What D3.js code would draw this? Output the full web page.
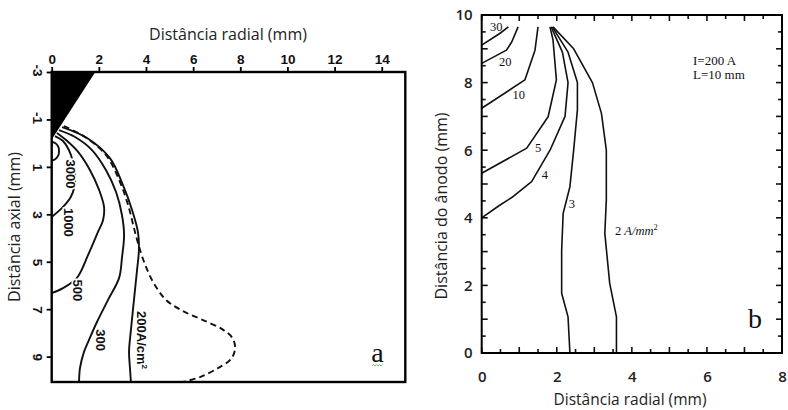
<!DOCTYPE html>
<html><head><meta charset="utf-8">
<script src="https://cdn.jsdelivr.net/npm/d3@7"></script>
<style>
body{margin:0;background:#fff;}
svg{display:block;}
</style></head><body>
<svg id="chart" width="788" height="410"></svg>
<script>
// ---------- Panel a: current density near the cathode (A/cm²) ----------
const radialTicksA = [0, 2, 4, 6, 8, 10, 12, 14];
const axialTicksA = [-3, -1, 1, 3, 5, 7, 9];
const cathodeA = [[0, -3], [1.85, -3], [0, -0.15]];

const contour3000 = [[0, -0.06], [0.18, 0.02], [0.29, 0.18], [0.31, 0.34], [0.28, 0.52], [0.16, 0.67], [0, 0.74]];
const contour1000 = [[0.14, -0.3], [0.48, -0.09], [0.73, 0.29], [0.9, 0.79], [0.99, 1.34], [0.95, 1.89], [0.81, 2.27], [0.44, 2.73], [0, 3.11]];
const contour500 = [[0.22, -0.43], [0.61, -0.13], [1.12, 0.37], [1.62, 1.13], [2.01, 1.97], [2.22, 2.69], [2.18, 3.24], [1.96, 3.75], [1.54, 4.72], [1.07, 5.68], [0.48, 6.11], [0, 6.32]];
const contour300 = [[0.31, -0.55], [0.99, -0.26], [1.71, 0.29], [2.3, 1.13], [2.73, 2.06], [2.98, 3.03], [3.07, 3.87], [2.98, 4.84], [2.86, 5.68], [2.39, 6.61], [1.92, 7.54], [1.58, 8.3], [1.37, 8.8], [1.2, 9.48], [1.16, 10.07]];
const contour200 = [[0.44, -0.68], [1.5, -0.22], [2.47, 0.63], [3.02, 1.76], [3.41, 2.82], [3.66, 3.75], [3.7, 4.5], [3.62, 5.35], [3.49, 6.61], [3.36, 7.88], [3.28, 8.8], [3.32, 9.48], [3.36, 10.07]];
const boundaryA = [[0.52, -0.72], [1.41, -0.26], [2.3, 0.5], [2.86, 1.55], [3.24, 2.61], [3.49, 3.58], [3.66, 4.21], [3.92, 5.01], [4.3, 5.85], [4.85, 6.61], [5.57, 7.08], [6.42, 7.46], [7.23, 7.84], [7.66, 8.21], [7.78, 8.64], [7.61, 9.1], [7.06, 9.48], [6.29, 9.86], [5.57, 10.07]];

const contoursA = [contour3000, contour1000, contour500, contour300, contour200];
const labelsA = [
  {text: "3000", r: 0.82, z: 1.3},
  {text: "1000", r: 0.71, z: 3.34},
  {text: "500", r: 1.09, z: 6.21},
  {text: "300", r: 2.09, z: 8.3},
  {text: "200A/cm", sup: "2", r: 3.81, z: 8.3}
];

// ---------- Panel b: current density near the anode (A/mm²) ----------
const radialTicksB = [0, 2, 4, 6, 8];
const axialTicksB = [0, 2, 4, 6, 8, 10];

const contour30 = [[0, 9.11], [0.49, 9.46], [0.71, 9.65]];
const contour20 = [[0, 8.57], [0.66, 8.96], [0.8, 9.2], [0.97, 9.65]];
const contour10 = [[0, 7.24], [1.15, 8.08], [1.42, 8.96], [1.5, 9.65]];
const contour5 = [[0, 5.32], [1.2, 6.06], [1.77, 6.99], [1.99, 8.08], [1.9, 9.26], [1.82, 9.65]];
const contour4 = [[0, 4.0], [0.45, 4.35], [0.8, 4.6], [1.33, 5.07], [1.82, 6.0], [2.22, 7.0], [2.3, 8.0], [2.15, 8.9], [1.85, 9.65]];
const contour3 = [[2.35, 0], [2.3, 1.07], [2.13, 1.77], [2.13, 3.05], [2.17, 4.13], [2.35, 4.92], [2.45, 6.0], [2.55, 7.2], [2.55, 8.0], [2.3, 8.9], [1.88, 9.65]];
const contour2 = [[3.59, 0], [3.59, 1.07], [3.41, 2.06], [3.28, 3.54], [3.32, 4.53], [3.32, 6.0], [3.19, 7.09], [2.95, 8.0], [2.45, 9.0], [1.9, 9.65]];

const contoursB = [contour30, contour20, contour10, contour5, contour4, contour3, contour2];
const labelsB = [
  {text: "30", r: 0.39, z: 9.65},
  {text: "20", r: 0.63, z: 8.61},
  {text: "10", r: 0.99, z: 7.63},
  {text: "5", r: 1.5, z: 6.09},
  {text: "4", r: 1.68, z: 5.27},
  {text: "3", r: 2.4, z: 4.41}
];

const svg = d3.select("#chart");
svg.append("rect").attr("width", 788).attr("height", 410).attr("fill", "#fff");

// ================= Panel a =================
const xa = d3.scaleLinear().domain([0, 15]).range([51.7, 405.3]);
const ya = d3.scaleLinear().domain([-3, 10.07]).range([72, 382]);
const ga = svg.append("g");

const lineA = d3.line().x(d => xa(d[0])).y(d => ya(d[1])).curve(d3.curveCatmullRom.alpha(0.5));

// cathode
ga.append("path")
  .attr("d", d3.line().x(d => xa(d[0])).y(d => ya(d[1]))(cathodeA) + "Z")
  .attr("fill", "#000");

ga.selectAll("path.ca").data(contoursA).join("path")
  .attr("class", "ca")
  .attr("d", lineA)
  .attr("fill", "none").attr("stroke", "#111").attr("stroke-width", 1.9);

ga.append("path").attr("d", lineA(boundaryA))
  .attr("fill", "none").attr("stroke", "#111").attr("stroke-width", 1.9)
  .attr("stroke-dasharray", "6,4");

// frame
ga.append("rect")
  .attr("x", xa(0)).attr("y", ya(-3))
  .attr("width", xa(15) - xa(0)).attr("height", ya(10.07) - ya(-3))
  .attr("fill", "none").attr("stroke", "#000").attr("stroke-width", 2.4);

// top axis
const axTop = ga.append("g").attr("transform", `translate(0,${ya(-3)})`)
  .call(d3.axisTop(xa).tickValues(radialTicksA).tickSize(5).tickPadding(3).tickFormat(d3.format("d")));
axTop.select(".domain").remove();
axTop.selectAll("line").attr("stroke", "#000").attr("stroke-width", 1.8);
axTop.selectAll("text").attr("font-family", "Liberation Sans, Arial, sans-serif")
  .attr("font-weight", "bold").attr("font-size", 13.5).attr("fill", "#111");

// left axis with rotated labels
const axLeft = ga.append("g").attr("transform", `translate(${xa(0)},0)`)
  .call(d3.axisLeft(ya).tickValues(axialTicksA).tickSize(5).tickFormat(d => String(d)));
axLeft.select(".domain").remove();
axLeft.selectAll("line").attr("stroke", "#000").attr("stroke-width", 1.8);
axLeft.selectAll("text")
  .attr("x", 4).attr("y", 0).attr("dy", "0.35em")
  .attr("transform", "translate(-13.7,0) rotate(90)")
  .attr("text-anchor", "end")
  .attr("font-family", "Liberation Sans, Arial, sans-serif")
  .attr("font-weight", "bold").attr("font-size", 13.5).attr("fill", "#111");

// contour labels (rotated, white halo opens a gap in the line)
labelsA.forEach(l => {
  const t = ga.append("text")
    .attr("transform", `translate(${xa(l.r)},${ya(l.z)}) rotate(90)`)
    .attr("text-anchor", "middle").attr("dy", "0.35em")
    .attr("font-family", "Liberation Sans, Arial, sans-serif")
    .attr("font-weight", "bold").attr("font-size", 13)
    .attr("fill", "#111")
    .attr("stroke", "#fff").attr("stroke-width", 3).attr("paint-order", "stroke");
  t.append("tspan").text(l.text);
  if (l.sup) t.append("tspan").attr("font-size", 8).attr("dy", "-0.6em").text(l.sup);
});

// titles
ga.append("text").attr("x", 228).attr("y", 40).attr("text-anchor", "middle")
  .attr("font-family", "Open Sans, sans-serif").attr("font-size", 16).attr("fill", "#222")
  .text("Distância radial (mm)");
ga.append("text").attr("transform", "translate(20,227) rotate(-90)").attr("text-anchor", "middle")
  .attr("font-family", "Open Sans, sans-serif").attr("font-size", 16).attr("fill", "#222")
  .text("Distância axial (mm)");

ga.append("text").attr("x", 377.5).attr("y", 362).attr("text-anchor", "middle")
  .attr("font-family", "Liberation Serif, Times New Roman, serif").attr("font-size", 28).attr("fill", "#111")
  .text("a");
ga.append("path").attr("d", "M372,366 l1.5,-1.5 l1.5,1.5 l1.5,-1.5 l1.5,1.5 l1.5,-1.5 l1.5,1.5 l1.5,-1.5")
  .attr("fill", "none").attr("stroke", "#7cc47c").attr("stroke-width", 1);

// ================= Panel b =================
const xb = d3.scaleLinear().domain([0, 8]).range([481.7, 782]);
const yb = d3.scaleLinear().domain([0, 10]).range([353, 15]);
const gb = svg.append("g");

const lineB = d3.line().x(d => xb(d[0])).y(d => yb(d[1]));
gb.selectAll("path.cb").data(contoursB).join("path")
  .attr("class", "cb")
  .attr("d", lineB)
  .attr("fill", "none").attr("stroke", "#111").attr("stroke-width", 1.6)
  .attr("stroke-linejoin", "round");

// inward ticks on all four sides
const minorX = d3.range(0, 8.01, 0.5);
const minorY = d3.range(0, 10.01, 0.5);
function tickLen(v) { return Math.abs(v - Math.round(v)) < 1e-6 ? 6 : 4; }
const tb = gb.append("g");
minorX.forEach(v => {
  tb.append("line").attr("x1", xb(v)).attr("x2", xb(v)).attr("y1", yb(0)).attr("y2", yb(0) - tickLen(v));
  tb.append("line").attr("x1", xb(v)).attr("x2", xb(v)).attr("y1", yb(10)).attr("y2", yb(10) + tickLen(v));
});
minorY.forEach(v => {
  tb.append("line").attr("x1", xb(0)).attr("x2", xb(0) + tickLen(v)).attr("y1", yb(v)).attr("y2", yb(v));
  tb.append("line").attr("x1", xb(8)).attr("x2", xb(8) - tickLen(v)).attr("y1", yb(v)).attr("y2", yb(v));
});
tb.selectAll("line").attr("stroke", "#111").attr("stroke-width", 1.6);

gb.append("rect")
  .attr("x", xb(0)).attr("y", yb(10))
  .attr("width", xb(8) - xb(0)).attr("height", yb(0) - yb(10))
  .attr("fill", "none").attr("stroke", "#000").attr("stroke-width", 2);

const axB = gb.append("g").attr("transform", `translate(0,${yb(0)})`)
  .call(d3.axisBottom(xb).tickValues(radialTicksB).tickSize(0).tickPadding(18));
axB.select(".domain").remove();
axB.selectAll("text").attr("font-family", "Open Sans, sans-serif").attr("font-weight", 600)
  .attr("font-size", 15).attr("fill", "#222");

const ayB = gb.append("g").attr("transform", `translate(${xb(0)},0)`)
  .call(d3.axisLeft(yb).tickValues(axialTicksB).tickSize(0).tickPadding(9));
ayB.select(".domain").remove();
ayB.selectAll("text").attr("font-family", "Open Sans, sans-serif").attr("font-weight", 600)
  .attr("font-size", 15).attr("fill", "#222");

gb.selectAll("text.lb").data(labelsB).join("text")
  .attr("class", "lb")
  .attr("x", d => xb(d.r)).attr("y", d => yb(d.z)).attr("dy", "0.35em")
  .attr("text-anchor", "middle")
  .attr("font-family", "Liberation Serif, Times New Roman, serif").attr("font-size", 12.5)
  .attr("fill", "#111")
  .text(d => d.text);

const lab2 = gb.append("text").attr("x", xb(3.55)).attr("y", yb(3.62)).attr("dy", "0.35em")
  .attr("font-family", "Liberation Serif, Times New Roman, serif").attr("font-size", 12.5).attr("fill", "#111");
lab2.append("tspan").text("2 ");
lab2.append("tspan").attr("font-style", "italic").text("A/mm");
lab2.append("tspan").attr("font-size", 8.5).attr("dy", "-0.6em").text("2");

gb.append("text").attr("x", 693).attr("y", 65)
  .attr("font-family", "Liberation Serif, Times New Roman, serif").attr("font-size", 13).attr("fill", "#111")
  .text("I=200 A");
gb.append("text").attr("x", 693).attr("y", 79)
  .attr("font-family", "Liberation Serif, Times New Roman, serif").attr("font-size", 13).attr("fill", "#111")
  .text("L=10 mm");

gb.append("text").attr("x", 755).attr("y", 328).attr("text-anchor", "middle")
  .attr("font-family", "Liberation Serif, Times New Roman, serif").attr("font-size", 28).attr("fill", "#111")
  .text("b");

gb.append("text").attr("x", 630).attr("y", 405).attr("text-anchor", "middle")
  .attr("font-family", "Open Sans, sans-serif").attr("font-size", 15.5).attr("fill", "#222")
  .text("Distância radial (mm)");
gb.append("text").attr("transform", "translate(447,206) rotate(-90)").attr("text-anchor", "middle")
  .attr("font-family", "Open Sans, sans-serif").attr("font-size", 16).attr("fill", "#222")
  .text("Distância do ânodo (mm)");
</script>
</body></html>
